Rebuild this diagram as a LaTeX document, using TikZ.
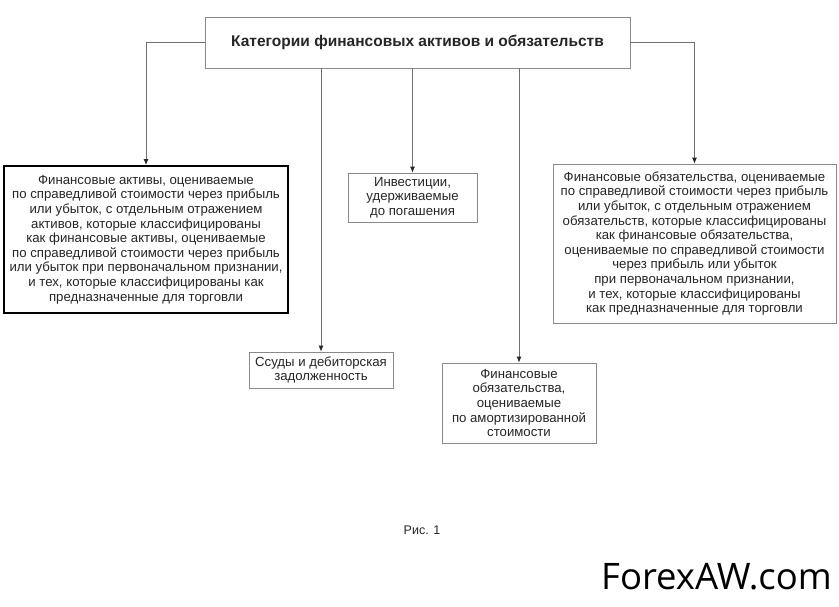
\documentclass[tikz,border=0pt]{standalone}
\usepackage{fontspec}
\setmainfont{Liberation Sans}
\newfontfamily\wmfont{Open Sans}
\usepackage{tikz}
\usetikzlibrary{arrows.meta, positioning, calc}
\definecolor{inkgray}{HTML}{262626}
\definecolor{linegray}{HTML}{707070}
\definecolor{boxgray}{HTML}{8A8A8A}
\tikzset{
  cat/.style={rectangle, draw=boxgray, line width=0.8pt, fill=white, text=inkgray,
    font=\fontsize{15.5}{18}\selectfont\bfseries, align=center, inner sep=2pt},
  leaf/.style={rectangle, draw=boxgray, line width=0.8pt, fill=white, text=inkgray,
    font=\fontsize{13.2}{14.6}\selectfont, align=center, inner sep=2pt},
  leaf/thick/.style={leaf, draw=black, line width=2pt},
  ar/.style={-{Latex[length=6pt,width=5pt,color=inkgray]}, draw=linegray, line width=0.8pt},
  figlbl/.style={text=inkgray, font=\fontsize{12.5}{14}\selectfont},
}
\begin{document}
\begin{tikzpicture}[x=1pt, y=-1pt]
\useasboundingbox[fill=white] (0,0) rectangle (839,606);

\node[cat, minimum width=425pt, minimum height=51pt] (CAT) at (417.5,42.5)
  {Категории финансовых активов и обязательств};

\node[leaf/thick, minimum width=284pt, minimum height=147pt] (FVA) at (146,239.5)
  {Финансовые активы, оцениваемые\\
   по справедливой стоимости через прибыль\\
   или убыток, с отдельным отражением\\
   активов, которые классифицированы\\
   как финансовые активы, оцениваемые\\
   по справедливой стоимости через прибыль\\
   или убыток при первоначальном признании,\\
   и тех, которые классифицированы как\\
   предназначенные для торговли};

\node[leaf, minimum width=129pt, minimum height=49pt] (HTM) at (412.5,197.5)
  {Инвестиции,\\ удерживаемые\\ до погашения};

\node[leaf, minimum width=144pt, minimum height=36pt] (LNS) at (321,370)
  {Ссуды и дебиторская\\ задолженность};

\node[leaf, minimum width=154pt, minimum height=80pt] (AMC) at (519,403)
  {Финансовые\\ обязательства,\\ оцениваемые\\ по амортизированной\\ стоимости};

\node[leaf, minimum width=283pt, minimum height=159pt] (FVL) at (694.5,243.5)
  {Финансовые обязательства, оцениваемые\\
   по справедливой стоимости через прибыль\\
   или убыток, с отдельным отражением\\
   обязательств, которые классифицированы\\
   как финансовые обязательства,\\
   оцениваемые по справедливой стоимости\\
   через прибыль или убыток\\
   при первоначальном признании,\\
   и тех, которые классифицированы\\
   как предназначенные для торговли};

\node[figlbl] (FIG) at (422,530) {Рис. 1};
\node[text=black, font=\wmfont\fontsize{36.5}{40}\selectfont] (WM) at (716.5,577) {ForexAW.com};

\draw[ar] (CAT.west) -| (FVA.north);
\draw[ar] (CAT.east) -| (FVL.north);
\draw[ar] (CAT.south -| LNS.north) -- (LNS.north);
\draw[ar] (CAT.south -| HTM.north) -- (HTM.north);
\draw[ar] (CAT.south -| AMC.north) -- (AMC.north);

\end{tikzpicture}
\end{document}
